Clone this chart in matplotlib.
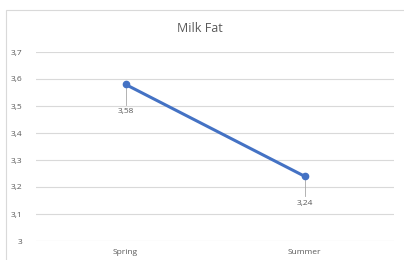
import matplotlib.pyplot as plt
from matplotlib.patches import Rectangle

seasons = ["Spring", "Summer"]
milk_fat = [3.58, 3.24]
y_ticks = [3.0, 3.1, 3.2, 3.3, 3.4, 3.5, 3.6, 3.7]

plt.rcParams["font.family"] = ["Open Sans", "DejaVu Sans"]
grey = "#595959"

fig = plt.figure(figsize=(4.04, 2.6), dpi=100)
fig.patches.append(Rectangle((6 / 404, -0.1), 1.1, 1.1 - 10 / 260,
                             transform=fig.transFigure, fill=False,
                             edgecolor="#D9D9D9", linewidth=0.8))
ax = fig.add_axes([36 / 404, 19 / 260, 358 / 404, 189 / 260])

x = list(range(len(seasons)))
ax.plot(x, milk_fat, color="#4472C4", linewidth=2.2, marker="o", markersize=4.5, zorder=3)

# data labels below the points with leader lines
for xi, v in zip(x, milk_fat):
    ax.plot([xi, xi], [v - 0.012, v - 0.075], color="#A6A6A6", linewidth=0.6, zorder=2)
    ax.text(xi, v - 0.1, f"{v:.2f}".replace(".", ","), ha="center", va="center",
            fontsize=6, color=grey)

ax.set_xlim(-0.5, 1.5)
ax.set_ylim(3.0, 3.7)
ax.set_yticks(y_ticks)
ax.set_yticklabels([("%g" % t).replace(".", ",") for t in y_ticks])
ax.set_xticks(x)
ax.set_xticklabels(seasons)
ax.tick_params(axis="both", length=0, labelsize=6, labelcolor=grey)
ax.tick_params(axis="y", pad=10)
ax.tick_params(axis="x", pad=6)
ax.grid(True, axis="y", color="#D9D9D9", linewidth=0.8)
ax.set_axisbelow(True)
for s in ax.spines.values():
    s.set_visible(False)

fig.text(200 / 404, 1 - 29 / 260, "Milk Fat", ha="center", va="center",
         fontsize=9, color=grey)

fig.savefig("out.png", dpi=100)
plt.close(fig)
